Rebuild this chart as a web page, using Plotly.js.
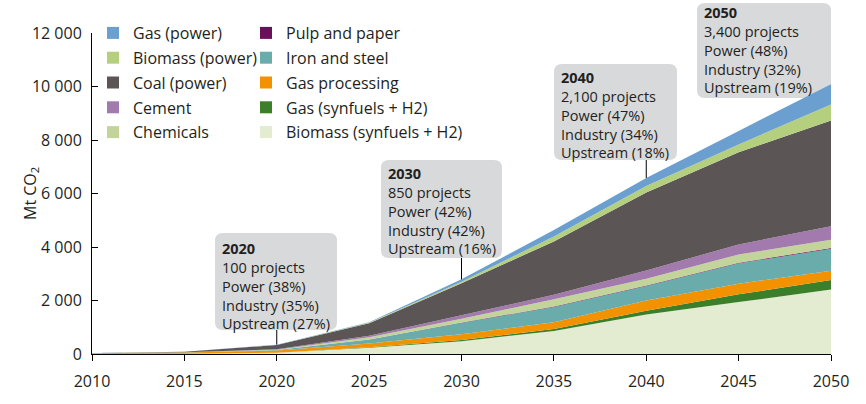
<!DOCTYPE html>
<html>
<head>
<meta charset="utf-8">
<script src="https://cdn.plot.ly/plotly-3.0.1.min.js"></script>
<style>html,body{margin:0;padding:0;background:#fff}#chart{width:866px;height:404px}</style>
</head>
<body>
<div id="chart"></div>
<script>
// ---- data (Mt CO2) ----
const years = [2010, 2015, 2020, 2025, 2030, 2035, 2040, 2045, 2050];
const biomassSynfuels = [0, 10, 45, 230, 480, 860, 1480, 1940, 2410];
const gasSynfuels     = [0, 2, 5, 20, 45, 70, 140, 290, 360];
const gasProcessing   = [30, 45, 80, 140, 215, 260, 380, 400, 340];
const ironSteel       = [2, 5, 20, 150, 430, 570, 540, 760, 820];
const pulpPaper       = [0, 0, 2, 5, 10, 15, 20, 25, 30];
const chemicals       = [2, 5, 10, 85, 140, 270, 255, 300, 310];
const cement          = [1, 2, 14, 55, 130, 170, 305, 380, 505];
const coalPower       = [3, 13, 156, 465, 1195, 1995, 2920, 3450, 3950];
const biomassPower    = [1, 2, 8, 15, 60, 180, 240, 290, 600];
const gasPower        = [1, 3, 10, 25, 85, 245, 300, 505, 760];

const seriesNames = ['Biomass (synfuels + H2)', 'Gas (synfuels + H2)', 'Gas processing', 'Iron and steel',
  'Pulp and paper', 'Chemicals', 'Cement', 'Coal (power)', 'Biomass (power)', 'Gas (power)'];
const seriesValues = [biomassSynfuels, gasSynfuels, gasProcessing, ironSteel, pulpPaper,
  chemicals, cement, coalPower, biomassPower, gasPower];

const yTickVals = [0, 2000, 4000, 6000, 8000, 10000, 12000];
const yTickText = ['0', '2 000', '4 000', '6 000', '8 000', '10 000', '12 000'];
const xTickVals = [2010, 2015, 2020, 2025, 2030, 2035, 2040, 2045, 2050];
const yTitle = 'Mt CO<sub>2</sub>';

const legendCol1 = ['Gas (power)', 'Biomass (power)', 'Coal (power)', 'Cement', 'Chemicals'];
const legendCol2 = ['Pulp and paper', 'Iron and steel', 'Gas processing', 'Gas (synfuels + H2)', 'Biomass (synfuels + H2)'];

const boxYears     = [2020, 2030, 2040, 2050];
const boxProjects  = ['100 projects', '850 projects', '2,100 projects', '3,400 projects'];
const boxPower     = ['Power (38%)', 'Power (42%)', 'Power (47%)', 'Power (48%)'];
const boxIndustry  = ['Industry (35%)', 'Industry (42%)', 'Industry (34%)', 'Industry (32%)'];
const boxUpstream  = ['Upstream (27%)', 'Upstream (16%)', 'Upstream (18%)', 'Upstream (19%)'];
const boxConnector = [true, true, true, false];

// ---- styles / layout constants ----
const colors = {
  'Biomass (synfuels + H2)': '#e3ebd0',
  'Gas (synfuels + H2)': '#3b7f2a',
  'Gas processing': '#f39200',
  'Iron and steel': '#6aabab',
  'Pulp and paper': '#6b0f5b',
  'Chemicals': '#c3d49b',
  'Cement': '#a27aad',
  'Coal (power)': '#5b5655',
  'Biomass (power)': '#b4d07f',
  'Gas (power)': '#6b9fd0'
};
const FONT = '"Open Sans", Lato, sans-serif';
const TXT = '#231f20';
const L = 92, R = 35, T = 33, B = 50, W = 866, H = 404;
const PW = W - L - R, PH = H - T - B;
const YMAX = 12000;
const px2x = px => (px - L) / PW;
const py2y = py => (H - B - py) / PH;
const py2val = py => (H - B - py) / PH * YMAX;

const boxLeft = [215, 381, 554, 697];
const boxTop  = [233, 160, 64, 3];
const boxW    = [122, 121, 123, 134];
const boxH    = [97, 98, 96, 95];
const textTop = [236.5, 161.5, 66.5, 1.5];

// ---- traces ----
const traces = seriesNames.map((n, i) => ({
  type: 'scatter', x: years, y: seriesValues[i], name: n,
  mode: 'none', stackgroup: 'one', fillcolor: colors[n],
  line: {width: 0}, showlegend: false, hoverinfo: 'skip'
}));
legendCol1.forEach(n => traces.push({
  type: 'scatter', x: [null], y: [null], name: n, mode: 'markers',
  marker: {symbol: 'square', size: 12, color: colors[n]}, legend: 'legend', legendgroup: n, showlegend: true
}));
legendCol2.forEach(n => traces.push({
  type: 'scatter', x: [null], y: [null], name: n, mode: 'markers',
  marker: {symbol: 'square', size: 12, color: colors[n]}, legend: 'legend2', legendgroup: n, showlegend: true
}));

const totals = years.map((_, j) => seriesValues.reduce((s, a) => s + a[j], 0));

// ---- boxes, texts, connectors ----
const shapes = [];
const annotations = [];
function roundRect(w, h, r) {
  const hw = w / 2, hh = h / 2;
  return `M${-hw + r},${-hh} L${hw - r},${-hh} Q${hw},${-hh} ${hw},${-hh + r} L${hw},${hh - r} Q${hw},${hh} ${hw - r},${hh} ` +
         `L${-hw + r},${hh} Q${-hw},${hh} ${-hw},${hh - r} L${-hw},${-hh + r} Q${-hw},${-hh} ${-hw + r},${-hh} Z`;
}
boxYears.forEach((yr, k) => {
  shapes.push({
    type: 'path', xref: 'paper', yref: 'paper', xsizemode: 'pixel', ysizemode: 'pixel',
    xanchor: px2x(boxLeft[k] + boxW[k] / 2), yanchor: py2y(boxTop[k] + boxH[k] / 2),
    path: roundRect(boxW[k], boxH[k], 8), fillcolor: '#d8d9db', line: {width: 0}, layer: 'below'
  });
  const text = ['<b>' + yr + '</b>', boxProjects[k], boxPower[k], boxIndustry[k], boxUpstream[k]].join('<br>');
  annotations.push({
    xref: 'paper', yref: 'paper', x: px2x(boxLeft[k] + 5), y: py2y(textTop[k]),
    xanchor: 'left', yanchor: 'top', align: 'left', text: text, showarrow: false,
    font: {family: FONT, size: 14.5, color: TXT}
  });
  if (boxConnector[k]) {
    const j = years.indexOf(yr);
    shapes.push({
      type: 'line', xref: 'x', yref: 'y', x0: yr, x1: yr, y0: totals[j], y1: py2val(boxTop[k] + boxH[k]),
      line: {color: '#000', width: 1}, layer: 'above'
    });
  }
});
annotations.push({
  xref: 'paper', yref: 'paper', x: px2x(30), y: py2y(193), xanchor: 'center', yanchor: 'middle',
  text: yTitle, textangle: -90, showarrow: false, font: {family: FONT, size: 16, color: TXT}
});

const layout = {
  width: W, height: H,
  margin: {l: L, r: R, t: T, b: B, pad: 0},
  paper_bgcolor: '#fff', plot_bgcolor: '#fff',
  font: {family: FONT, size: 16, color: TXT},
  showlegend: true,
  xaxis: {
    range: [2010, 2050], tickvals: xTickVals, ticks: 'outside', ticklen: 6, tickcolor: '#000',
    showline: true, linecolor: '#000', linewidth: 1, showgrid: false, zeroline: false,
    tickfont: {family: FONT, size: 16, color: TXT}, ticklabelstandoff: 7, fixedrange: true
  },
  yaxis: {
    range: [0, YMAX], tickvals: yTickVals, ticktext: yTickText, ticks: 'inside', ticklen: 6, tickcolor: '#000',
    showline: true, linecolor: '#000', linewidth: 1, showgrid: false, zeroline: false,
    tickfont: {family: FONT, size: 16, color: TXT}, ticklabelstandoff: 6, fixedrange: true
  },
  legend: {
    x: px2x(93), xanchor: 'left', y: py2y(16), yanchor: 'top', traceorder: 'grouped', tracegroupgap: 1,
    font: {family: FONT, size: 16, color: TXT}, bgcolor: 'rgba(0,0,0,0)', itemclick: false, itemdoubleclick: false
  },
  legend2: {
    x: px2x(246), xanchor: 'left', y: py2y(16), yanchor: 'top', traceorder: 'grouped', tracegroupgap: 1,
    font: {family: FONT, size: 16, color: TXT}, bgcolor: 'rgba(0,0,0,0)', itemclick: false, itemdoubleclick: false
  },
  shapes: shapes,
  annotations: annotations
};

Plotly.newPlot('chart', traces, layout, {staticPlot: true, displayModeBar: false});
</script>
</body>
</html>
